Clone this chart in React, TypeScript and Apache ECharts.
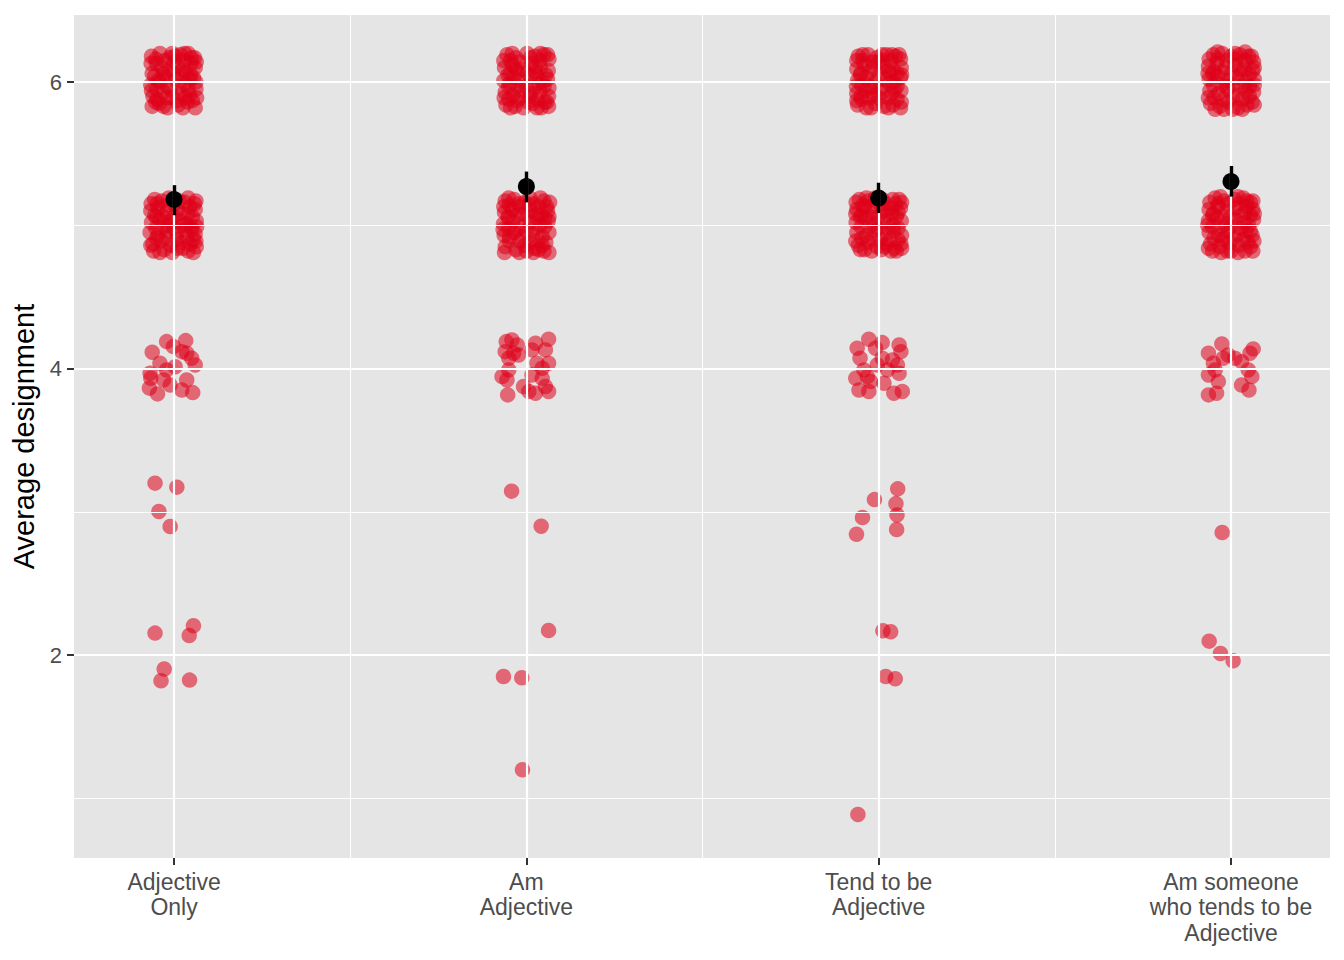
import React, { useEffect, useRef } from "react";
import * as echarts from "echarts";

const categories = [
  "Adjective\nOnly",
  "Am\nAdjective",
  "Tend to be\nAdjective",
  "Am someone\nwho tends to be\nAdjective",
];
const yTickValues = [2, 4, 6];
const yMajorGrid = [2, 4, 6];
const yMinorGrid = [1, 3, 5];
const xMajorGrid = [1, 2, 3, 4];
const xMinorGrid = [1.5, 2.5, 3.5];

const meanValues = [5.18, 5.27, 5.19, 5.305];
const errLow = [5.07, 5.16, 5.085, 5.2];
const errHigh = [5.28, 5.375, 5.297, 5.414];

// [horizontal jitter offset from category, value]
const adjectiveOnly = [
  [-0.064,6.18],[-0.040,6.20],[-0.012,6.17],[0.018,6.19],[0.040,6.20],[0.058,6.17],
  [-0.062,6.06],[-0.035,6.10],[-0.015,6.08],[0.010,6.11],[0.033,6.07],[0.060,6.10],
  [-0.066,5.98],[-0.045,6.01],[-0.020,5.97],[0.005,6.02],[0.030,5.99],[0.055,6.03],
  [-0.060,5.90],[-0.030,5.93],[-0.005,5.89],[0.020,5.92],[0.045,5.91],[0.062,5.95],
  [-0.062,5.83],[-0.042,5.85],[-0.018,5.82],[0.012,5.84],[0.038,5.86],[0.060,5.82],
  [-0.050,6.13],[0.000,6.14],[0.048,6.13],[-0.025,6.04],[0.022,6.05],[-0.052,5.86],
  [-0.052,6.16],[-0.026,6.15],[0.002,6.18],[0.028,6.15],[0.050,6.17],
  [-0.055,6.04],[-0.030,6.06],[-0.002,6.06],[0.025,6.09],[0.047,6.05],
  [-0.050,5.95],[-0.010,5.95],[0.015,5.97],[0.040,5.95],[0.062,6.00],
  [-0.048,5.88],[-0.020,5.89],[0.008,5.87],[0.032,5.89],[0.052,5.87],
  [-0.065,6.13],[0.063,6.14],[-0.064,5.94],[0.064,5.89],[-0.030,5.83],[0.025,5.82],
  [-0.005,6.20],[0.030,6.20],[-0.040,6.00],[0.045,6.02],
  [-0.055,5.18],[-0.035,5.17],[0.000,5.15],[0.030,5.16],[0.058,5.15],
  [-0.066,5.10],[-0.045,5.12],[-0.020,5.09],[0.010,5.11],[0.040,5.08],[0.060,5.11],
  [-0.064,5.02],[-0.040,5.04],[-0.015,5.00],[0.015,5.03],[0.035,5.01],[0.063,5.03],
  [-0.068,4.95],[-0.045,4.93],[-0.020,4.96],[0.008,4.94],[0.032,4.97],[0.060,4.94],
  [-0.060,4.87],[-0.035,4.89],[-0.010,4.86],[0.020,4.88],[0.045,4.87],[0.062,4.89],
  [-0.058,4.82],[-0.028,4.83],[-0.005,4.81],[0.025,4.84],[0.055,4.81],[-0.050,5.06],[0.048,4.99],
  [-0.048,5.15],[-0.020,5.14],[0.015,5.17],[0.045,5.13],[0.062,5.17],
  [-0.055,5.07],[-0.030,5.06],[0.000,5.06],[0.025,5.08],[0.052,5.06],
  [-0.052,4.98],[-0.028,4.99],[0.000,4.98],[0.022,5.00],[0.050,4.97],
  [-0.050,4.91],[-0.022,4.91],[0.008,4.90],[0.035,4.92],[0.055,4.90],
  [-0.065,5.15],[-0.066,4.86],[0.064,4.99],[0.063,4.85],[-0.040,4.81],[0.040,4.82],
  [0.010,4.84],[-0.015,5.19],[0.040,5.19],[-0.010,5.03],
  [-0.062,4.114],[-0.021,4.188],[0.033,4.195],[0.022,4.118],[0.050,4.072],[0.060,4.025],
  [-0.040,4.037],[-0.068,3.967],[-0.066,3.932],[-0.070,3.863],[-0.047,3.823],[-0.011,3.885],
  [0.022,3.850],[0.036,3.920],[0.053,3.832],[0.003,4.013],[-0.021,3.990],[-0.002,4.153],
  [0.036,4.107],[-0.030,3.920],
  [-0.054,3.200],[0.008,3.172],[-0.043,3.002],[-0.011,2.897],
  [-0.054,2.153],[0.055,2.204],[0.043,2.136],[-0.028,1.902],[-0.037,1.820],[0.044,1.825],
];

const amAdjective = [
  [-0.055,6.19],[-0.030,6.17],[0.002,6.20],[0.025,6.18],[0.050,6.19],[0.064,6.16],
  [-0.062,6.10],[-0.040,6.12],[-0.010,6.09],[0.015,6.13],[0.040,6.10],[0.062,6.08],
  [-0.064,6.01],[-0.035,6.03],[-0.012,6.00],[0.012,6.04],[0.035,5.99],[0.060,6.02],
  [-0.060,5.93],[-0.038,5.91],[-0.015,5.94],[0.010,5.90],[0.038,5.93],[0.063,5.90],
  [-0.058,5.84],[-0.032,5.83],[-0.008,5.82],[0.018,5.85],[0.042,5.82],[0.058,5.86],
  [-0.045,6.06],[0.025,6.07],[0.050,5.97],[-0.025,5.87],[0.000,5.97],[-0.050,5.97],
  [-0.045,6.15],[-0.018,6.14],[0.012,6.17],[0.038,6.15],[0.060,6.19],
  [-0.052,6.05],[-0.025,6.07],[0.003,6.06],[0.030,6.04],[0.055,6.05],
  [-0.048,5.99],[-0.025,5.97],[0.022,5.96],[0.045,6.00],[0.064,5.96],
  [-0.050,5.88],[-0.020,5.89],[0.005,5.86],[0.030,5.88],[0.052,5.86],
  [-0.064,6.15],[-0.063,5.89],[-0.045,5.82],[0.030,5.82],[0.063,5.83],[-0.040,6.20],
  [0.040,6.20],[-0.030,6.09],[0.025,6.11],[0.012,5.92],
  [-0.060,5.17],[-0.035,5.18],[-0.005,5.16],[0.020,5.15],[0.050,5.17],[0.066,5.16],
  [-0.062,5.09],[-0.040,5.11],[-0.012,5.08],[0.015,5.10],[0.042,5.07],[0.060,5.10],
  [-0.065,5.01],[-0.038,5.03],[-0.015,4.99],[0.010,5.02],[0.038,5.00],[0.062,5.03],
  [-0.063,4.93],[-0.035,4.95],[-0.010,4.92],[0.018,4.94],[0.045,4.92],[0.064,4.95],
  [-0.060,4.85],[-0.030,4.83],[-0.005,4.86],[0.022,4.84],[0.045,4.86],[0.064,4.81],
  [-0.048,4.89],[0.000,4.82],[0.035,4.83],[-0.050,5.05],[0.030,5.05],[-0.020,5.13],
  [-0.048,5.14],[-0.022,5.15],[0.008,5.14],[0.035,5.13],[0.058,5.13],
  [-0.052,5.06],[-0.025,5.07],[0.003,5.06],[0.030,5.08],[0.052,5.05],
  [-0.050,4.98],[-0.025,4.97],[0.000,4.96],[0.025,4.98],[0.052,4.99],
  [-0.048,4.92],[-0.020,4.89],[0.010,4.88],[0.032,4.89],[0.055,4.88],
  [-0.064,5.13],[-0.066,4.97],[-0.062,4.81],[-0.020,4.81],[0.020,4.81],[0.050,4.82],
  [0.064,5.06],[-0.050,5.19],[0.010,5.19],[0.040,5.19],
  [-0.057,4.188],[-0.041,4.200],[-0.026,4.165],[-0.060,4.118],[-0.036,4.107],[-0.050,4.072],
  [-0.022,4.095],[0.026,4.177],[0.063,4.205],[0.016,4.130],[0.054,4.130],[0.030,4.037],
  [0.063,4.037],[0.045,4.002],[-0.069,3.944],[-0.050,3.990],[-0.055,3.920],[-0.053,3.816],
  [-0.008,3.874],[0.016,3.955],[0.007,3.840],[0.026,3.828],[0.054,3.874],[0.063,3.840],
  [0.045,3.932],
  [-0.042,3.144],[0.042,2.899],[0.063,2.171],[-0.065,1.850],[-0.013,1.841],[-0.011,1.199],
];

const tendToBe = [
  [-0.058,6.18],[-0.030,6.19],[-0.005,6.17],[0.022,6.19],[0.048,6.18],[0.062,6.16],
  [-0.062,6.09],[-0.040,6.12],[-0.015,6.10],[0.015,6.11],[0.040,6.09],[0.064,6.10],
  [-0.060,6.01],[-0.035,6.03],[-0.010,6.00],[0.018,6.02],[0.042,6.00],[0.062,6.03],
  [-0.062,5.92],[-0.038,5.94],[-0.012,5.91],[0.012,5.93],[0.038,5.92],[0.063,5.94],
  [-0.060,5.84],[-0.035,5.82],[-0.010,5.85],[0.015,5.83],[0.040,5.84],[0.062,5.82],
  [-0.050,6.06],[0.030,6.06],[-0.025,5.97],[0.052,5.97],[0.000,6.14],[-0.048,5.88],
  [-0.045,6.15],[-0.018,6.14],[0.008,6.15],[0.035,6.15],[0.058,6.19],
  [-0.052,6.05],[-0.025,6.07],[0.003,6.05],[0.028,6.08],[0.052,6.06],
  [-0.048,5.98],[-0.020,5.96],[0.005,5.96],[0.030,5.99],[0.045,5.95],
  [-0.050,5.90],[-0.025,5.89],[0.000,5.89],[0.028,5.89],[0.052,5.88],
  [-0.062,6.15],[-0.063,5.97],[-0.062,5.87],[-0.022,5.82],[0.028,5.82],[0.064,5.86],
  [0.065,6.05],[-0.045,6.19],[0.010,6.19],[0.038,6.19],
  [-0.055,5.18],[-0.030,5.17],[-0.010,5.19],[0.020,5.15],[0.058,5.18],
  [-0.062,5.11],[-0.040,5.13],[-0.015,5.09],[0.012,5.10],[0.038,5.08],[0.062,5.12],
  [-0.064,5.02],[-0.038,5.05],[-0.012,5.01],[0.015,5.03],[0.040,5.00],[0.064,5.03],
  [-0.062,4.95],[-0.035,4.93],[-0.010,4.96],[0.018,4.94],[0.042,4.96],[0.065,4.93],
  [-0.058,4.86],[-0.030,4.88],[-0.005,4.85],[0.022,4.87],[0.045,4.84],[0.063,4.87],
  [-0.052,4.83],[-0.020,4.82],[0.008,4.83],[0.035,4.82],[-0.048,5.07],[0.050,5.06],[0.030,4.90],
  [-0.045,5.14],[-0.020,5.13],[0.005,5.15],[0.035,5.12],[0.048,5.15],
  [-0.052,5.06],[-0.025,5.06],[0.000,5.06],[0.025,5.07],[0.055,5.09],
  [-0.050,4.99],[-0.025,4.99],[0.000,4.98],[0.028,4.98],[0.055,4.98],
  [-0.048,4.91],[-0.020,4.91],[0.005,4.90],[0.018,4.85],[0.055,4.90],
  [-0.064,5.16],[-0.065,5.08],[-0.065,4.89],[-0.040,4.83],[0.050,4.82],[0.065,4.84],
  [0.040,5.18],[0.010,5.18],[0.065,5.16],[-0.035,5.19],
  [-0.061,4.142],[-0.028,4.205],[0.010,4.181],[0.058,4.165],[0.063,4.118],[-0.009,4.142],
  [-0.053,4.072],[0.010,4.072],[0.039,4.060],[0.053,4.025],[-0.042,3.990],[-0.065,3.932],
  [-0.032,3.944],[0.058,3.967],[0.015,3.897],[-0.023,3.909],[-0.056,3.850],[-0.028,3.840],
  [0.067,3.840],[0.043,3.828],[-0.004,4.025],[0.025,3.990],
  [0.054,3.160],[-0.012,3.085],[0.049,3.057],[0.052,2.978],[-0.046,2.960],[0.051,2.876],
  [-0.063,2.843],[0.012,2.169],[0.034,2.162],[0.020,1.850],[0.047,1.834],[-0.059,0.887],
];

const amSomeone = [
  [-0.050,6.19],[-0.025,6.20],[0.000,6.18],[0.025,6.19],[0.050,6.18],[0.064,6.14],
  [-0.064,6.11],[-0.040,6.13],[-0.015,6.10],[0.012,6.12],[0.038,6.09],[0.062,6.08],
  [-0.062,6.02],[-0.038,6.04],[-0.012,6.01],[0.015,6.03],[0.040,6.00],[0.066,6.02],
  [-0.060,5.94],[-0.035,5.92],[-0.010,5.95],[0.018,5.91],[0.042,5.94],[0.064,5.93],
  [-0.058,5.85],[-0.032,5.83],[-0.008,5.86],[0.020,5.82],[0.045,5.84],[0.060,5.86],
  [-0.045,5.81],[0.005,5.81],[-0.048,6.07],[0.028,6.06],[-0.025,5.98],[0.052,5.97],
  [-0.038,6.16],[-0.012,6.15],[0.012,6.16],[0.040,6.15],[0.058,6.18],
  [-0.052,6.06],[-0.025,6.07],[0.002,6.06],[0.025,6.09],[0.052,6.05],
  [-0.050,5.98],[-0.012,5.97],[0.005,5.98],[0.030,5.97],[0.066,5.98],
  [-0.048,5.89],[-0.022,5.88],[0.005,5.89],[0.032,5.88],[0.052,5.90],
  [-0.062,6.16],[-0.065,6.06],[-0.064,5.89],[-0.020,5.81],[0.032,5.81],[0.066,5.84],
  [0.066,6.10],[-0.038,6.21],[0.012,6.20],[0.040,6.21],
  [-0.045,5.19],[-0.020,5.17],[0.010,5.18],[0.035,5.19],[0.055,5.16],
  [-0.062,5.11],[-0.038,5.13],[-0.012,5.10],[0.015,5.12],[0.040,5.09],[0.062,5.11],
  [-0.064,5.03],[-0.040,5.05],[-0.015,5.01],[0.012,5.04],[0.038,5.02],[0.064,5.04],
  [-0.062,4.95],[-0.035,4.93],[-0.010,4.96],[0.018,4.94],[0.042,4.96],[0.060,4.93],
  [-0.058,4.87],[-0.032,4.85],[-0.005,4.88],[0.022,4.86],[0.048,4.88],[0.065,4.89],
  [-0.052,4.82],[-0.028,4.81],[0.000,4.82],[0.040,4.82],[-0.050,5.08],[0.050,5.00],[-0.025,4.90],
  [-0.035,5.15],[-0.008,5.15],[0.022,5.15],[0.045,5.13],[0.062,5.17],
  [-0.052,5.07],[-0.025,5.06],[0.000,5.06],[0.028,5.07],[0.055,5.07],
  [-0.052,4.99],[-0.025,4.99],[0.000,4.99],[0.028,4.98],[0.055,4.96],
  [-0.048,4.91],[-0.020,4.91],[0.008,4.91],[0.035,4.90],[0.055,4.85],
  [-0.060,5.16],[-0.066,5.00],[-0.064,4.84],[-0.010,4.82],[0.020,4.81],[0.062,4.82],
  [0.066,5.08],[-0.030,5.20],[0.020,5.20],[0.045,5.17],
  [-0.064,4.107],[-0.026,4.172],[0.063,4.137],[0.054,4.107],[-0.008,4.095],[0.011,4.072],
  [0.030,4.048],[-0.022,4.072],[-0.050,4.037],[0.049,3.990],[0.059,3.944],[-0.064,3.955],
  [-0.045,3.990],[-0.036,3.909],[-0.064,3.816],[-0.041,3.828],[0.030,3.885],[0.051,3.850],
  [-0.025,2.855],[-0.062,2.097],[-0.030,2.011],[0.006,1.960],
];

const groups = [adjectiveOnly, amAdjective, tendToBe, amSomeone];

const FONT = "'Liberation Sans', Arial, Helvetica, sans-serif";

export default function App() {
  const ref = useRef<HTMLDivElement>(null);

  useEffect(() => {
    document.body.style.margin = "0";
    if (!ref.current) return;
    const chart = echarts.init(ref.current, null, { renderer: "svg" });

    const redData: number[][] = [];
    groups.forEach((pts, gi) => {
      pts.forEach(([dx, v]) => redData.push([gi + 1 + dx, v]));
    });

    const gridLines = [
      ...yMinorGrid.map((v) => ({ yAxis: v, lineStyle: { color: "#ffffff", width: 1.1, type: "solid" } })),
      ...xMinorGrid.map((v) => ({ xAxis: v, lineStyle: { color: "#ffffff", width: 1.1, type: "solid" } })),
      ...yMajorGrid.map((v) => ({ yAxis: v, lineStyle: { color: "#ffffff", width: 2.2, type: "solid" } })),
      ...xMajorGrid.map((v) => ({ xAxis: v, lineStyle: { color: "#ffffff", width: 2.2, type: "solid" } })),
    ];

    const errorBars = meanValues.map((_, i) => [
      { coord: [i + 1, errLow[i]] },
      { coord: [i + 1, errHigh[i]] },
    ]);

    chart.setOption({
      animation: false,
      textStyle: { fontFamily: FONT },
      grid: {
        left: 74,
        right: 14,
        top: 15,
        bottom: 102,
        show: true,
        backgroundColor: "#E5E5E5",
        borderWidth: 0,
      },
      xAxis: {
        type: "value",
        min: 0.716,
        max: 4.281,
        axisLine: { show: false },
        splitLine: { show: false },
        axisTick: {
          show: true,
          customValues: [1, 2, 3, 4],
          length: 7,
          lineStyle: { color: "#333333", width: 2 },
        },
        axisLabel: {
          customValues: [1, 2, 3, 4],
          formatter: (v: number) => categories[Math.round(v) - 1] ?? "",
          color: "#4D4D4D",
          fontSize: 23,
          lineHeight: 25.5,
          margin: 11,
          fontFamily: FONT,
        },
      },
      yAxis: {
        type: "value",
        min: 0.583,
        max: 6.468,
        name: "Average designment",
        nameLocation: "middle",
        nameGap: 35,
        nameRotate: 90,
        nameTextStyle: { color: "#000000", fontSize: 29, fontFamily: FONT },
        axisLine: { show: false },
        splitLine: { show: false },
        axisTick: {
          show: true,
          customValues: yTickValues,
          length: 7,
          lineStyle: { color: "#333333", width: 2 },
        },
        axisLabel: {
          customValues: yTickValues,
          color: "#4D4D4D",
          fontSize: 22,
          margin: 12,
          fontFamily: FONT,
        },
      },
      series: [
        {
          type: "scatter",
          data: [],
          z: 1,
          silent: true,
          markLine: {
            silent: true,
            symbol: ["none", "none"],
            label: { show: false },
            emphasis: { disabled: true },
            data: gridLines,
          },
        },
        {
          type: "scatter",
          data: redData,
          symbol: "circle",
          symbolSize: 15.5,
          z: 2,
          itemStyle: { color: "#DF0018", opacity: 0.55 },
          emphasis: { disabled: true },
        },
        {
          type: "scatter",
          z: 4,
          data: meanValues.map((m, i) => [i + 1, m]),
          symbol: "circle",
          symbolSize: 17,
          itemStyle: { color: "#000000", opacity: 1 },
          emphasis: { disabled: true },
          markLine: {
            silent: true,
            symbol: ["none", "none"],
            label: { show: false },
            emphasis: { disabled: true },
            lineStyle: { color: "#000000", width: 3.4, type: "solid", opacity: 1 },
            data: errorBars,
          },
        },
      ],
    });

    return () => chart.dispose();
  }, []);

  return <div ref={ref} style={{ width: 1344, height: 960 }} />;
}
